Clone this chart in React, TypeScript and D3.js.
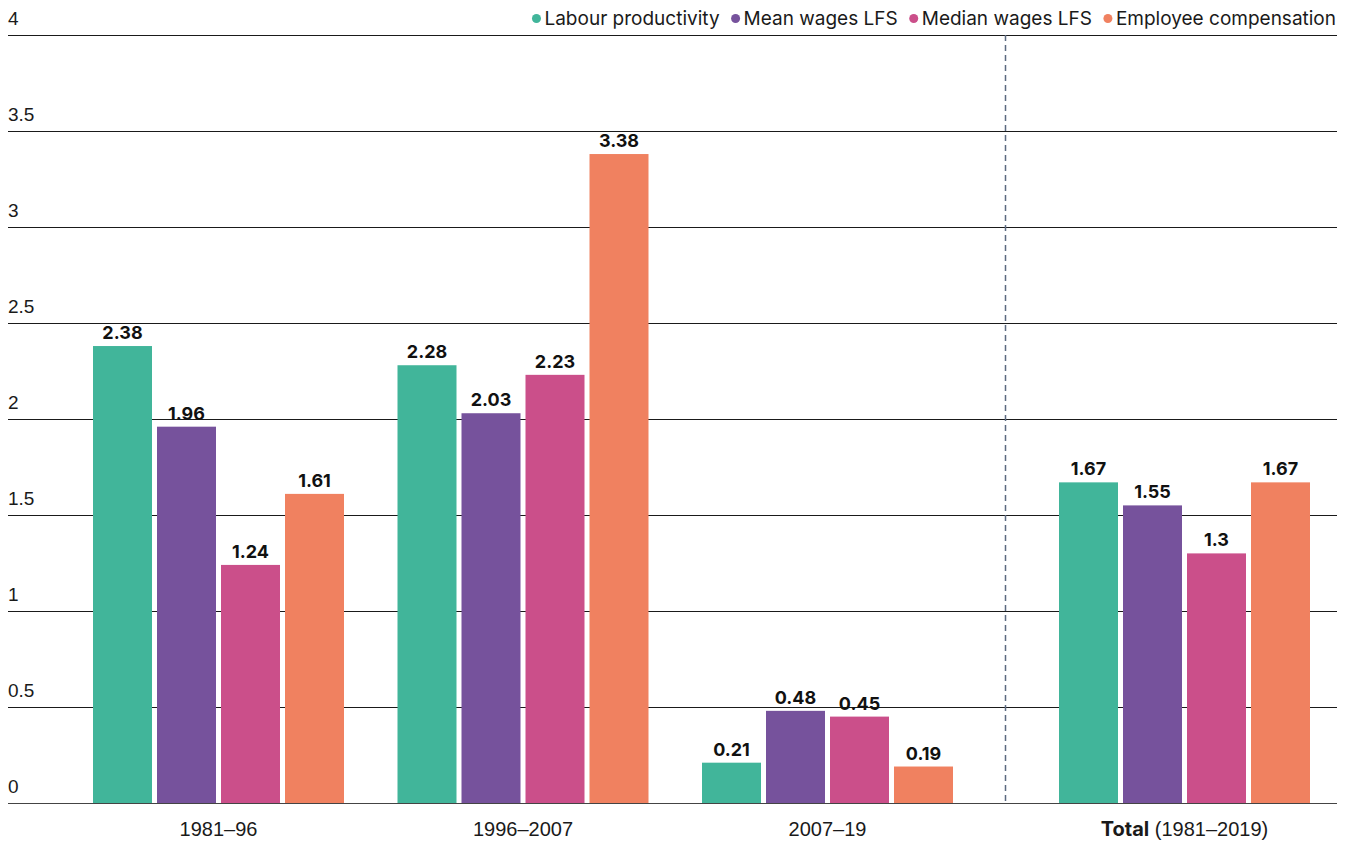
import React, { useEffect, useRef } from "react";
import * as d3 from "d3";

const categories = ["1981–96", "1996–2007", "2007–19", "Total"];
const seriesNames = ["Labour productivity", "Mean wages LFS", "Median wages LFS", "Employee compensation"];
const labourProductivity = [2.38, 2.28, 0.21, 1.67];
const meanWages = [1.96, 2.03, 0.48, 1.55];
const medianWages = [1.24, 2.23, 0.45, 1.3];
const employeeComp = [1.61, 3.38, 0.19, 1.67];
const seriesColors = ["#41b59a", "#76529c", "#cb4f8a", "#f08160"];
const yTicks = [0, 0.5, 1, 1.5, 2, 2.5, 3, 3.5, 4];

const W = 1354;
const H = 841;
const FONT = "Inter, 'Open Sans', sans-serif";
const TICKFONT = "'Liberation Sans', Arial, sans-serif";

export default function App() {
  const ref = useRef<SVGSVGElement>(null);

  useEffect(() => {
    const svg = d3.select(ref.current);
    svg.selectAll("*").remove();
    const values = [labourProductivity, meanWages, medianWages, employeeComp];

    const left = 8, right = 1337, top = 35, bottom = 803;
    const y = d3.scaleLinear().domain([0, 4]).range([bottom, top]);

    const x = d3.scaleBand<string>().domain(categories).range([66.25, 1284.25]).paddingInner(0).paddingOuter(0);
    const totalGap = 52.5;
    const groupCenter = (c: string, i: number) => (x(c) as number) + x.bandwidth() / 2 + (i === 3 ? totalGap : 0);
    const groupWidth = 251;
    const xs = d3.scaleBand<string>().domain(seriesNames).range([0, groupWidth]).paddingInner(5 / 64).paddingOuter(0);

    // gridlines
    const g = svg.append("g");
    yTicks.forEach((t) => {
      g.append("line")
        .attr("x1", left).attr("x2", right)
        .attr("y1", y(t)).attr("y2", y(t))
        .attr("stroke", t === 0 ? "#444" : "#1a1a1a")
        .attr("stroke-width", 1)
        .attr("shape-rendering", "crispEdges");
      g.append("text")
        .attr("x", left)
        .attr("y", y(t) - 10)
        .attr("font-family", TICKFONT)
        .attr("font-size", 19)
        .attr("fill", "#1a1a1a")
        .text(String(t));
    });

    // dashed separator
    const sepX = 1005.5;
    svg.append("line")
      .attr("x1", sepX).attr("x2", sepX)
      .attr("y1", y(4)).attr("y2", y(0))
      .attr("stroke", "#5b6a80")
      .attr("stroke-width", 1.5)
      .attr("stroke-dasharray", "6,4");

    // bars
    categories.forEach((c, ci) => {
      const gx = groupCenter(c, ci) - groupWidth / 2;
      seriesNames.forEach((s, si) => {
        const v = values[si][ci];
        const bx = gx + (xs(s) as number);
        svg.append("rect")
          .attr("x", bx)
          .attr("y", y(v))
          .attr("width", xs.bandwidth())
          .attr("height", y(0) - y(v))
          .attr("fill", seriesColors[si]);
        svg.append("text")
          .attr("x", bx + xs.bandwidth() / 2)
          .attr("y", y(v) - 7)
          .attr("text-anchor", "middle")
          .attr("font-family", FONT)
          .attr("font-weight", 700)
          .attr("font-size", 18)
          .attr("fill", "#111")
          .text(String(v));
      });
      const lbl = svg.append("text")
        .attr("x", groupCenter(c, ci))
        .attr("y", 836)
        .attr("text-anchor", "middle")
        .attr("font-family", TICKFONT)
        .attr("font-size", 20)
        .attr("fill", "#1a1a1a");
      if (c === "Total") {
        lbl.append("tspan").attr("font-weight", 700).attr("font-family", FONT).text("Total");
        lbl.append("tspan").text(" (1981–2019)");
      } else {
        lbl.text(c);
      }
    });

    // legend, right aligned
    const leg = svg.append("g");
    let cursor = 1336;
    for (let i = seriesNames.length - 1; i >= 0; i--) {
      const t = leg.append("text")
        .attr("y", 25)
        .attr("font-family", FONT)
        .attr("font-size", 19)
        .attr("fill", "#1a1a1a")
        .text(seriesNames[i]);
      const w = (t.node() as SVGTextElement).getComputedTextLength();
      t.attr("x", cursor - w);
      leg.append("circle")
        .attr("cx", cursor - w - 8)
        .attr("cy", 18.5)
        .attr("r", 4.5)
        .attr("fill", seriesColors[i]);
      cursor = cursor - w - 24;
    }
  }, []);

  return (
    <svg
      ref={ref}
      width={W}
      height={H}
      style={{ position: "absolute", left: 0, top: 0, background: "#fff" }}
    />
  );
}
